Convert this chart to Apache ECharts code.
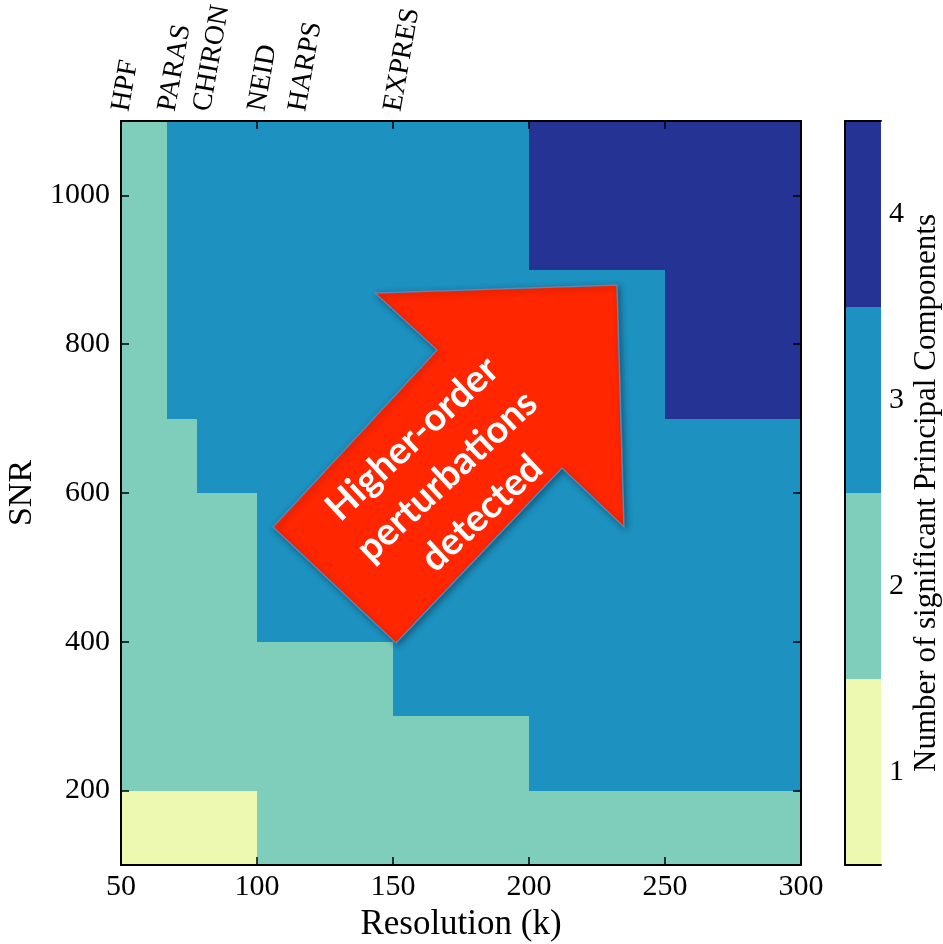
<!DOCTYPE html>
<html>
<head>
<meta charset="utf-8">
<script src="https://cdn.jsdelivr.net/npm/echarts@6/dist/echarts.min.js"></script>
<style>
html,body{margin:0;padding:0;background:#fff;}
#chart{width:943px;height:944px;}
</style>
</head>
<body>
<div id="chart"></div>
<script>
// Cell edges (resolution in k, SNR)
var resEdges = [50, 67, 78, 100, 150, 200, 250, 300];
var snrEdges = [100, 200, 300, 400, 600, 700, 900, 1100];
// Number of significant PCs; rows = SNR bands (bottom to top), cols = resolution bands
var pcRows = [
  [1, 1, 1, 2, 2, 2, 2],   // 100-200
  [2, 2, 2, 2, 2, 3, 3],   // 200-300
  [2, 2, 2, 2, 3, 3, 3],   // 300-400
  [2, 2, 2, 3, 3, 3, 3],   // 400-600
  [2, 2, 3, 3, 3, 3, 3],   // 600-700
  [2, 3, 3, 3, 3, 3, 4],   // 700-900
  [2, 3, 3, 3, 3, 4, 4]    // 900-1100
];
var pcLevels = ['1', '2', '3', '4'];
var pcColors = ['#edf8b1', '#7fcdbb', '#1d91c0', '#253494'];
var xTicks = [50, 100, 150, 200, 250, 300];
var yTicks = [200, 400, 600, 800, 1000];
var instNames = ['HPF', 'PARAS', 'CHIRON', 'NEID', 'HARPS', 'EXPRES'];
var instRes = [50, 67, 80, 100, 115, 150];

var cells = [];
for (var r = 0; r < pcRows.length; r++) {
  for (var c = 0; c < pcRows[r].length; c++) {
    cells.push([resEdges[c], resEdges[c + 1], snrEdges[r], snrEdges[r + 1], pcRows[r][c]]);
  }
}
var instData = instRes.map(function (x, i) { return [x, 1100, i]; });

var serif = 'Liberation Serif';
var black = '#000';

var chart = echarts.init(document.getElementById('chart'), null, {renderer: 'canvas'});

var tickStyle = {inside: true, length: 8, lineStyle: {color: black, width: 1.5}};
var lineStyle = {show: true, lineStyle: {color: black, width: 2}};

chart.setOption({
  backgroundColor: '#fff',
  animation: false,
  grid: [
    {left: 121, top: 121, width: 680, height: 744, containLabel: false, outerBoundsMode: 'none'},
    {left: 845, top: 121, width: 36, height: 744, containLabel: false, outerBoundsMode: 'none'}
  ],
  xAxis: [
    {
      type: 'value', gridIndex: 0, position: 'bottom', min: 50, max: 300, interval: 50, z: 10,
      axisLine: lineStyle, axisTick: tickStyle, splitLine: {show: false},
      axisLabel: {fontFamily: serif, fontSize: 30, color: black, margin: 7, showMinLabel: true, showMaxLabel: true},
      name: 'Resolution (k)', nameLocation: 'middle', nameGap: 36,
      nameTextStyle: {fontFamily: serif, fontSize: 35, color: black}
    },
    {
      type: 'value', gridIndex: 0, position: 'top', min: 50, max: 300, interval: 50, z: 10,
      axisLine: lineStyle, axisTick: tickStyle, splitLine: {show: false}, axisLabel: {show: false}
    },
    {
      type: 'value', gridIndex: 1, position: 'bottom', min: 0, max: 1, z: 10,
      axisLine: lineStyle, axisTick: {show: false}, splitLine: {show: false}, axisLabel: {show: false}
    },
    {
      type: 'value', gridIndex: 1, position: 'top', min: 0, max: 1, z: 10,
      axisLine: lineStyle, axisTick: {show: false}, splitLine: {show: false}, axisLabel: {show: false}
    }
  ],
  yAxis: [
    {
      type: 'value', gridIndex: 0, position: 'left', min: 100, max: 1100, z: 10,
      axisLine: lineStyle,
      axisTick: {inside: true, length: 8, lineStyle: {color: black, width: 1.5}, customValues: yTicks},
      splitLine: {show: false},
      axisLabel: {fontFamily: serif, fontSize: 30, color: black, margin: 11, customValues: yTicks,
        formatter: function (v) { return String(v); }},
      name: 'SNR', nameLocation: 'middle', nameGap: 67, nameRotate: 90,
      nameTextStyle: {fontFamily: serif, fontSize: 34, color: black}
    },
    {
      type: 'value', gridIndex: 0, position: 'right', min: 100, max: 1100, z: 10,
      axisLine: lineStyle,
      axisTick: {inside: true, length: 8, lineStyle: {color: black, width: 1.5}, customValues: yTicks},
      splitLine: {show: false}, axisLabel: {show: false}
    },
    {
      type: 'category', gridIndex: 1, position: 'right', data: pcLevels, z: 10,
      axisLine: lineStyle,
      axisTick: {inside: true, alignWithLabel: true, length: 8, lineStyle: {color: black, width: 1.5}},
      axisLabel: {fontFamily: serif, fontSize: 30, color: black, margin: 8},
      name: 'Number of significant Principal Components', nameLocation: 'middle', nameGap: 30, nameRotate: 90,
      nameTextStyle: {fontFamily: serif, fontSize: 31, color: black}
    },
    {
      type: 'category', gridIndex: 1, position: 'left', data: pcLevels, z: 10,
      axisLine: lineStyle, axisTick: {show: false}, axisLabel: {show: false}
    }
  ],
  series: [
    {
      type: 'custom', xAxisIndex: 0, yAxisIndex: 0, data: cells,
      encode: {x: [0, 1], y: [2, 3]},
      renderItem: function (params, api) {
        var p0 = api.coord([api.value(0), api.value(3)]);
        var p1 = api.coord([api.value(1), api.value(2)]);
        var x0 = Math.round(p0[0]), y0 = Math.round(p0[1]);
        var x1 = Math.round(p1[0]), y1 = Math.round(p1[1]);
        var col = pcColors[api.value(4) - 1];
        return {
          type: 'rect',
          shape: {x: x0, y: y0, width: x1 - x0, height: y1 - y0},
          style: {fill: col}
        };
      },
      z: 2
    },
    {
      type: 'custom', xAxisIndex: 0, yAxisIndex: 0, data: instData, clip: false,
      renderItem: function (params, api) {
        var p = api.coord([api.value(0), api.value(1)]);
        return {
          type: 'text',
          x: p[0], y: p[1] - 10,
          rotation: 80 * Math.PI / 180,
          style: {
            text: instNames[api.value(2)], x: 0, y: 0,
            align: 'left', verticalAlign: 'middle',
            font: '28px "Liberation Serif"', fill: black
          }
        };
      },
      z: 3
    },
    {
      type: 'bar', xAxisIndex: 2, yAxisIndex: 2, barWidth: '100%', barCategoryGap: '0%',
      data: pcLevels.map(function (l, i) { return {value: 1, itemStyle: {color: pcColors[i]}}; }),
      z: 2
    }
  ],
  graphic: [
    {
      type: 'polygon', z: 50,
      shape: {points: [[375, 293], [617, 285], [624, 527], [562, 468], [396, 643], [273, 527], [437, 350]]},
      style: {fill: '#ff2600', stroke: '#5a86b8', lineWidth: 1.5,
        shadowBlur: 6, shadowColor: 'rgba(0,0,0,0.35)', shadowOffsetX: 2, shadowOffsetY: 2}
    },
    {
      type: 'text', z: 60,
      x: 447, y: 476, rotation: 43 * Math.PI / 180,
      style: {
        text: 'Higher-order\nperturbations\ndetected',
        font: 'bold 38px Lato', fill: '#fff', align: 'center', verticalAlign: 'middle', lineHeight: 51
      }
    }
  ]
});
</script>
</body>
</html>
